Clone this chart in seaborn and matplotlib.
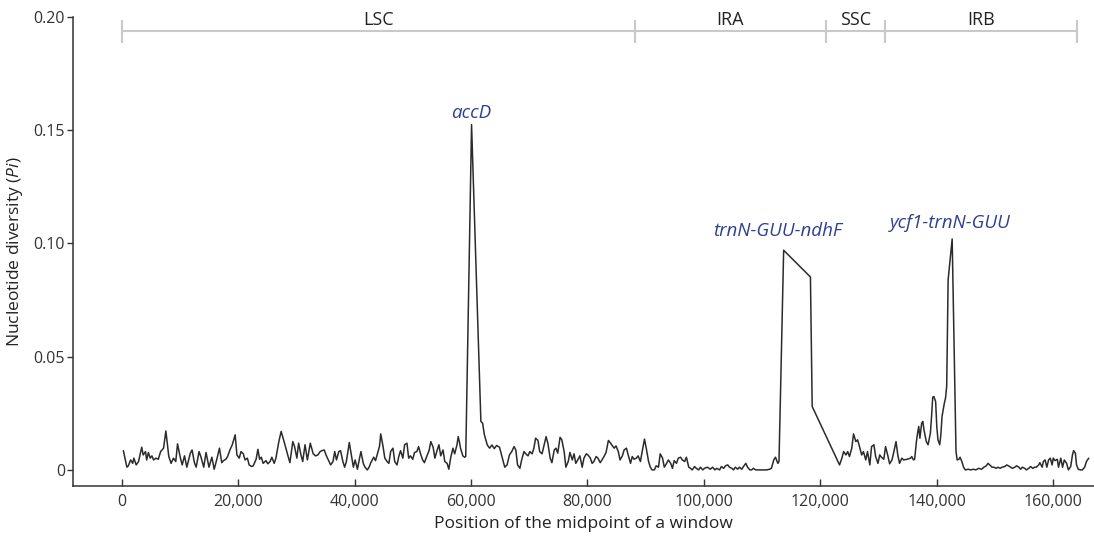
#!/usr/bin/env python3
"""Sliding-window nucleotide diversity (Pi) along the plastome."""

import matplotlib

matplotlib.use("Agg")

import matplotlib.pyplot as plt
import numpy as np
import seaborn as sns

# window midpoints (bp) and Pi values
POSITION = [
    300, 900, 1150, 1550, 1900, 2100, 2500, 2900, 3450, 3700, 4100, 4300, 4600, 4900, 5200,
    5500, 5900, 6300, 6700, 7200, 7600, 8100, 8500, 8900, 9300, 9600, 10100, 10400, 10800,
    11200, 11800, 12100, 12500, 12800, 13300, 13600, 14100, 14500, 15000, 15500, 15900,
    16400, 16800, 17200, 17500, 17900, 18200, 18600, 19000, 19500, 19800, 20200, 20500,
    20900, 21200, 21600, 21900, 22300, 22600, 23100, 23400, 23700, 24000, 24300, 24800,
    25100, 25500, 25800, 26200, 26500, 27000, 27400, 27900, 28200, 28600, 28900, 29400,
    29700, 30100, 30400, 30800, 31100, 31500, 31900, 32400,
    32900, 33300, 33700, 34100, 34400, 34800, 35100, 35500, 35900, 36300, 36600, 36900,
    37300, 37600, 38000, 38300, 38600, 39100, 39400, 39800, 40100, 40500, 40800, 41100,
    41500, 41800, 42200, 42500, 42800, 43300, 43600, 44000, 44300, 44500, 44900, 45200,
    45600, 45900, 46200, 46600, 46900, 47300, 47600, 47900, 48300, 48600, 49000, 49300,
    49600, 50000, 50300, 50700, 51000, 51300, 51700, 52000, 52500, 52800, 53100, 53500,
    53800, 54200, 54500, 54800, 55200, 55500, 55900, 56200, 56500, 56900, 57200, 57600,
    57800, 58000, 58200, 58600, 58900, 59100, 60100, 61700, 62000, 62300, 62800, 63200,
    63600, 64000, 64400, 64900, 65400, 65800, 66200, 66600,
    67000, 67400, 67700, 68000, 68400, 68700, 69100, 69400, 69800, 70100, 70500, 70800,
    71100, 71500, 71800, 72200, 72500, 72900, 73200, 73600, 73900, 74300, 74600, 74900,
    75300, 75600, 76000, 76300, 76700, 77000, 77400, 77700, 78000, 78400, 78700, 79100,
    79400, 79800, 80100, 80500, 80800, 81100, 81500, 81800, 82200, 82500, 82900, 83200,
    83600, 83900, 84300, 84600, 84900, 85300, 85600, 86000, 86300, 86700, 87000, 87400,
    87700, 88000, 88400, 88700, 89100, 89400, 89800, 90100, 90500, 90800, 91100, 91500,
    91800, 92200, 92500, 92900, 93200, 93600, 93900, 94300, 94600, 94900, 95300, 95600,
    96000, 96300, 96700, 97000, 97400, 97700, 98000, 98400, 98700, 99100, 99400, 99800,
    100100, 100600, 101100,
    101500, 101900, 102200, 102700, 103000, 103400, 103700, 104100, 104400, 104800, 105100,
    105400, 105800, 106100, 106500, 106800, 107200, 107500, 107900, 108200, 108500, 108900,
    109200, 109700, 110300, 110800, 111300, 111600, 112000, 112300, 112700, 112900, 113700,
    118300, 118600, 123300, 123700, 124000, 124400, 124700, 125000, 125400, 125700, 126100,
    126400, 126800, 127100, 127400, 127800, 128100, 128500, 128800, 129200, 129500, 129900,
    130200, 130500, 130900, 131200, 131600, 131900, 132300, 132600, 133000, 133300, 133600,
    134000, 134300, 134900, 135500,
    135700, 136000, 136200, 136500, 136700, 136900, 137100, 137400, 137600, 137800, 138200,
    138500, 138900, 139100, 139300, 139500, 139800, 140000, 140200, 140500, 140700, 140900,
    141300, 141500, 141700, 141950, 142640, 143300, 143500, 143800, 144000, 144300, 144600,
    144900, 145400, 145800, 146300, 146700, 147200, 147700, 148100, 148500, 148800, 149100,
    149500, 149800, 150200, 150500, 150900, 151200, 151700, 152000, 152300, 152700, 153000,
    153400, 153700, 154100, 154400, 154700, 155100, 155400, 155800, 156100, 156500, 156800,
    157100, 157500, 157700, 158100, 158300, 158600, 158900, 159200, 159500, 159800, 160000,
    160300, 160700, 160900, 161300, 161600, 161900, 162300, 162600, 163000, 163300, 163500,
    163800, 164000, 164300, 164700, 165000, 165400, 165700, 166100,
]
PI = [
    0.0085, 0.0012, 0.0018, 0.0044, 0.0029, 0.0052, 0.0022, 0.0037, 0.0100, 0.0066, 0.0081,
    0.0044, 0.0077, 0.0052, 0.0062, 0.0044, 0.0052, 0.0047, 0.0081, 0.0096, 0.0172, 0.0059,
    0.0029, 0.0052, 0.0037, 0.0115, 0.0052, 0.0022, 0.0062, 0.0012, 0.0074, 0.0088, 0.0032,
    0.0012, 0.0081, 0.0059, 0.0012, 0.0077, 0.0012, 0.0056, 0.0003, 0.0052, 0.0096, 0.0032,
    0.0041, 0.0047, 0.0059, 0.0088, 0.0111, 0.0155, 0.0066, 0.0052, 0.0081, 0.0071, 0.0044,
    0.0052, 0.0022, 0.0015, 0.0018, 0.0047, 0.0091, 0.0047, 0.0056, 0.0029, 0.0041, 0.0027,
    0.0037, 0.0056, 0.0029, 0.0052, 0.0125, 0.0170, 0.0125, 0.0096, 0.0059, 0.0032, 0.0125,
    0.0103, 0.0052, 0.0118, 0.0066, 0.0037, 0.0111, 0.0044, 0.0118,
    0.0071, 0.0062, 0.0066, 0.0081, 0.0085, 0.0088, 0.0066, 0.0044, 0.0022, 0.0037, 0.0081,
    0.0044, 0.0081, 0.0085, 0.0037, 0.0012, 0.0037, 0.0121, 0.0074, 0.0012, 0.0044, 0.0003,
    0.0044, 0.0081, 0.0029, 0.0012, 0.0000, 0.0012, 0.0032, 0.0056, 0.0041, 0.0077, 0.0106,
    0.0159, 0.0103, 0.0052, 0.0037, 0.0029, 0.0081, 0.0096, 0.0037, 0.0022, 0.0059, 0.0085,
    0.0052, 0.0111, 0.0118, 0.0052, 0.0062, 0.0047, 0.0077, 0.0081, 0.0103, 0.0074, 0.0044,
    0.0032, 0.0066, 0.0085, 0.0125, 0.0100, 0.0052, 0.0088, 0.0111, 0.0062, 0.0088, 0.0037,
    0.0029, 0.0003, 0.0052, 0.0096, 0.0071, 0.0111, 0.0147, 0.0125, 0.0096, 0.0062, 0.0056,
    0.0060, 0.1525, 0.0214, 0.0206, 0.0155, 0.0110, 0.0096, 0.0110, 0.0094, 0.0108, 0.0100,
    0.0052, 0.0012, 0.0022, 0.0066,
    0.0081, 0.0103, 0.0088, 0.0022, 0.0007, 0.0044, 0.0081, 0.0071, 0.0062, 0.0081, 0.0071,
    0.0096, 0.0140, 0.0130, 0.0081, 0.0071, 0.0103, 0.0147, 0.0118, 0.0052, 0.0032, 0.0088,
    0.0096, 0.0074, 0.0144, 0.0133, 0.0081, 0.0012, 0.0037, 0.0077, 0.0044, 0.0071, 0.0029,
    0.0047, 0.0062, 0.0012, 0.0052, 0.0071, 0.0066, 0.0052, 0.0029, 0.0037, 0.0059, 0.0052,
    0.0032, 0.0044, 0.0062, 0.0077, 0.0130, 0.0121, 0.0106, 0.0096, 0.0106, 0.0081, 0.0044,
    0.0062, 0.0088, 0.0096, 0.0066, 0.0029, 0.0059, 0.0047, 0.0052, 0.0062, 0.0037, 0.0081,
    0.0136, 0.0096, 0.0037, 0.0012, 0.0000, 0.0000, 0.0018, 0.0012, 0.0071, 0.0052, 0.0012,
    0.0029, 0.0044, 0.0029, 0.0007, 0.0041, 0.0029, 0.0052, 0.0056, 0.0044, 0.0037, 0.0056,
    0.0012, 0.0007, 0.0000, 0.0015, 0.0007, 0.0000, 0.0012, 0.0000, 0.0007, 0.0012, 0.0003,
    0.0012, 0.0000, 0.0007, 0.0000, 0.0015, 0.0007, 0.0018, 0.0022, 0.0012, 0.0007, 0.0000,
    0.0012, 0.0003, 0.0012, 0.0003, 0.0015, 0.0029, 0.0012, 0.0000, 0.0000, 0.0007, 0.0000,
    0.0000, 0.0000, 0.0000, 0.0000, 0.0003, 0.0007, 0.0044, 0.0056, 0.0029, 0.0037, 0.0970,
    0.0852, 0.0280, 0.0022, 0.0052, 0.0081, 0.0066, 0.0081, 0.0059, 0.0096, 0.0159, 0.0125,
    0.0133, 0.0096, 0.0066, 0.0081, 0.0044, 0.0081, 0.0022, 0.0103, 0.0111, 0.0059, 0.0029,
    0.0066, 0.0056, 0.0047, 0.0103, 0.0062, 0.0027, 0.0044, 0.0077, 0.0125, 0.0066, 0.0029,
    0.0052, 0.0044, 0.0047, 0.0052,
    0.0059, 0.0044, 0.0047, 0.0125, 0.0162, 0.0192, 0.0140, 0.0206, 0.0214, 0.0177, 0.0125,
    0.0111, 0.0162, 0.0236, 0.0321, 0.0324, 0.0302, 0.0192, 0.0133, 0.0111, 0.0155, 0.0236,
    0.0295, 0.0317, 0.0369, 0.0840, 0.1020, 0.0081, 0.0044, 0.0047, 0.0056, 0.0037, 0.0012,
    0.0000, 0.0003, 0.0000, 0.0003, 0.0000, 0.0007, 0.0003, 0.0012, 0.0018, 0.0029, 0.0022,
    0.0012, 0.0012, 0.0007, 0.0012, 0.0007, 0.0012, 0.0015, 0.0022, 0.0018, 0.0012, 0.0007,
    0.0012, 0.0018, 0.0012, 0.0003, 0.0012, 0.0007, 0.0000, 0.0007, 0.0015, 0.0007, 0.0012,
    0.0012, 0.0022, 0.0032, 0.0012, 0.0037, 0.0044, 0.0012, 0.0044, 0.0052, 0.0022, 0.0052,
    0.0041, 0.0047, 0.0012, 0.0052, 0.0012, 0.0044, 0.0029, 0.0000, 0.0015, 0.0066, 0.0085,
    0.0074, 0.0022, 0.0003, 0.0000, 0.0000, 0.0012, 0.0037, 0.0052,
]

REGION_NAMES = ["LSC", "IRA", "SSC", "IRB"]
REGION_BOUNDS = [0, 88100, 120950, 131130, 164000]

PEAK_GENES = ["accD", "trnN-GUU-ndhF", "ycf1-trnN-GUU"]
PEAK_REGIONS = ["LSC", "IRA", "IRB"]

X_TICKS = [0, 20000, 40000, 60000, 80000, 100000, 120000, 140000, 160000]
X_TICK_LABELS = ["0", "20,000", "40,000", "60,000", "80,000", "100,000", "120,000", "140,000", "160,000"]
Y_TICKS = [0, 0.05, 0.10, 0.15, 0.20]
Y_TICK_LABELS = ["0", "0.05", "0.10", "0.15", "0.20"]

LINE_COLOR = "#2b2b2b"
AXIS_COLOR = "#333333"
BRACKET_COLOR = "#c9c9c9"
GENE_COLOR = "#2e3f92"
# label offsets (points) from each peak
PEAK_OFFSETS = [(0, 8.5), (-4.5, 13.5), (-1.2, 11.7)]


def draw_regions(ax):
    y_line = 0.1936
    ax.hlines(y_line, REGION_BOUNDS[0], REGION_BOUNDS[-1], color=BRACKET_COLOR, lw=1.5, clip_on=False)
    ax.vlines(REGION_BOUNDS, 0.1887, 0.1987, color=BRACKET_COLOR, lw=1.5, clip_on=False)
    for name, start, end in zip(REGION_NAMES, REGION_BOUNDS[:-1], REGION_BOUNDS[1:]):
        ax.text((start + end) / 2, 0.1987, name, ha="center", va="center", fontsize=13,
                color="#222222", clip_on=False)


def label_peaks(ax, pos, pi):
    for gene, region, offset in zip(PEAK_GENES, PEAK_REGIONS, PEAK_OFFSETS):
        i = REGION_NAMES.index(region)
        mask = (pos >= REGION_BOUNDS[i]) & (pos <= REGION_BOUNDS[i + 1])
        idx = np.flatnonzero(mask)[np.argmax(pi[mask])]
        ax.annotate(gene, xy=(pos[idx], pi[idx]), xytext=offset, textcoords="offset points",
                    ha="center", va="center", fontsize=13.5, style="italic", color=GENE_COLOR)


def main():
    sns.set_style("ticks")
    plt.rcParams["font.family"] = ["Open Sans", "DejaVu Sans"]
    plt.rcParams["mathtext.fontset"] = "custom"
    plt.rcParams["mathtext.rm"] = "Open Sans"
    plt.rcParams["mathtext.it"] = "Open Sans:italic"

    pos = np.array(POSITION, dtype=float)
    pi = np.array(PI)

    fig = plt.figure(figsize=(10.94, 5.43), dpi=100)
    ax = fig.add_axes([0.067, 0.105, 0.933, 0.8637])
    sns.lineplot(x=pos, y=pi, ax=ax, color=LINE_COLOR, linewidth=1.1, estimator=None, sort=False)

    ax.set_xlim(-8300, 167000)
    ax.set_ylim(-0.0071, 0.20)
    ax.set_xticks(X_TICKS)
    ax.set_xticklabels(X_TICK_LABELS)
    ax.set_yticks(Y_TICKS)
    ax.set_yticklabels(Y_TICK_LABELS)
    ax.tick_params(axis="x", direction="in", length=5, width=1, pad=6, labelsize=11.5, colors=AXIS_COLOR)
    ax.tick_params(axis="y", direction="out", length=4, width=1, pad=2, labelsize=11.5, colors=AXIS_COLOR)
    for side in ["left", "bottom"]:
        ax.spines[side].set_color(AXIS_COLOR)
        ax.spines[side].set_linewidth(1.1)
    sns.despine(ax=ax)

    ax.set_xlabel("Position of the midpoint of a window", fontsize=12.5, color="#222222", labelpad=4)
    ax.set_ylabel(r"Nucleotide diversity ($\mathit{Pi}$)", fontsize=12.5, color="#222222", labelpad=6)

    draw_regions(ax)
    label_peaks(ax, pos, pi)

    fig.savefig("out.png", dpi=100)
    plt.close(fig)


if __name__ == "__main__":
    main()
